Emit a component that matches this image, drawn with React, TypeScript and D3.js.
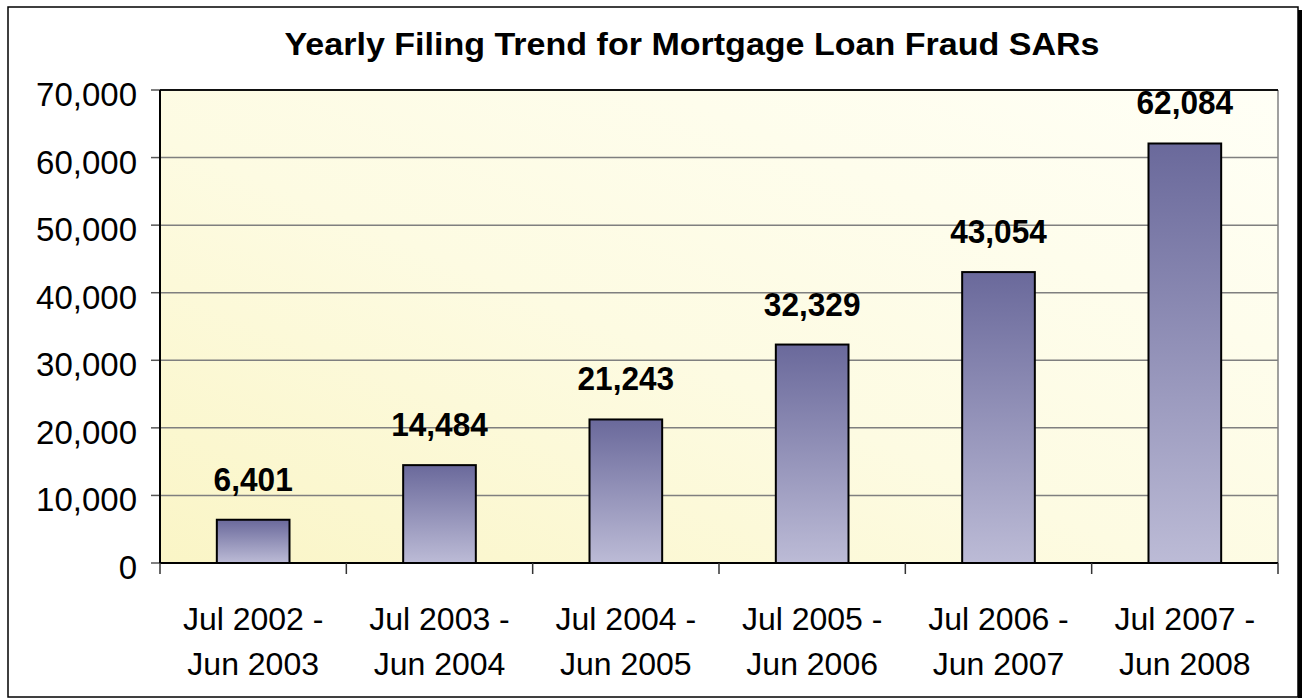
import React from 'react';
import * as d3 from 'd3';

// Data
const periodStart = ['Jul 2002 -', 'Jul 2003 -', 'Jul 2004 -', 'Jul 2005 -', 'Jul 2006 -', 'Jul 2007 -'];
const periodEnd = ['Jun 2003', 'Jun 2004', 'Jun 2005', 'Jun 2006', 'Jun 2007', 'Jun 2008'];
const filings = [6401, 14484, 21243, 32329, 43054, 62084];
const yTicks = [0, 10000, 20000, 30000, 40000, 50000, 60000, 70000];

const W = 1302;
const H = 698;
const plot = { left: 160, top: 90, right: 1278, bottom: 563 };
const font = '"Liberation Sans", Arial, sans-serif';

const App = () => {
    const cats = d3.range(filings.length);

    const x = d3.scaleBand<number>()
        .domain(cats)
        .range([plot.left, plot.right])
        .padding(0);

    const y = d3.scaleLinear()
        .domain([0, 70000])
        .range([plot.bottom, plot.top]);

    const barW = x.bandwidth() * 0.39;
    const fmt = d3.format(',');

    return (
        <svg width={W} height={H} style={{ position: 'absolute', left: 0, top: 0 }} fontFamily={font}>
            <defs>
                <linearGradient id="bg" x1="0" y1="1" x2="1" y2="0">
                    <stop offset="0" stopColor="#faf5c6" />
                    <stop offset="0.45" stopColor="#fdfbe2" />
                    <stop offset="1" stopColor="#fffff6" />
                </linearGradient>
                <linearGradient id="bar" x1="0" y1="0" x2="0" y2="1">
                    <stop offset="0" stopColor="#6a699b" />
                    <stop offset="1" stopColor="#bcbbd6" />
                </linearGradient>
            </defs>

            {/* frame with shadow */}
            <rect x={1298} y={10} width={4} height={H - 10} fill="#000" />
            <rect x={8} y={7} width={1290} height={690} fill="#fff" stroke="#000" strokeWidth={1.5} />

            {/* title */}
            <text x={692} y={55} textAnchor="middle" fontSize={32} fontWeight="bold"
                textLength={815} lengthAdjust="spacingAndGlyphs">
                Yearly Filing Trend for Mortgage Loan Fraud SARs
            </text>

            {/* plot area */}
            <rect x={plot.left} y={plot.top} width={plot.right - plot.left} height={plot.bottom - plot.top} fill="url(#bg)" />
            <line x1={plot.right} x2={plot.right} y1={plot.top} y2={plot.bottom} stroke="#808080" strokeWidth={1.5} />

            {/* gridlines + y ticks */}
            {yTicks.map(t => (
                <g key={t}>
                    {t > 0 && (
                        <line x1={plot.left} x2={plot.right} y1={y(t)} y2={y(t)}
                            stroke={t === 70000 ? '#111' : '#7f7f7f'} strokeWidth={t === 70000 ? 2 : 1.5} />
                    )}
                    <line x1={151} x2={plot.left} y1={y(t)} y2={y(t)} stroke="#555" strokeWidth={1.5} />
                    <text x={137} y={y(t) + 16} textAnchor="end" fontSize={33}>{fmt(t)}</text>
                </g>
            ))}

            {/* bars */}
            {filings.map((v, i) => {
                const cx = x(i)! + x.bandwidth() / 2;
                return (
                    <g key={i}>
                        <rect x={cx - barW / 2} y={y(v)} width={barW} height={y(0) - y(v)}
                            fill="url(#bar)" stroke="#000" strokeWidth={2} />
                        <text transform={`translate(${cx},${y(v) - 29}) scale(0.93,1)`} textAnchor="middle"
                            fontSize={34} fontWeight="bold">{fmt(v)}</text>
                    </g>
                );
            })}

            {/* axes */}
            <line x1={plot.left} x2={plot.left} y1={plot.top} y2={plot.bottom} stroke="#000" strokeWidth={2} />
            <line x1={plot.left} x2={plot.right} y1={plot.bottom} y2={plot.bottom} stroke="#000" strokeWidth={2} />
            {[...cats, cats.length].map(i => {
                const bx = i < cats.length ? x(i)! : plot.right;
                return <line key={i} x1={bx} x2={bx} y1={plot.bottom} y2={574} stroke="#333" strokeWidth={1.5} />;
            })}

            {/* category labels */}
            {cats.map(i => {
                const cx = x(i)! + x.bandwidth() / 2;
                return (
                    <text key={i} x={cx} textAnchor="middle" fontSize={32}>
                        <tspan x={cx} y={630}>{periodStart[i]}</tspan>
                        <tspan x={cx} y={675}>{periodEnd[i]}</tspan>
                    </text>
                );
            })}
        </svg>
    );
};

export default App;
